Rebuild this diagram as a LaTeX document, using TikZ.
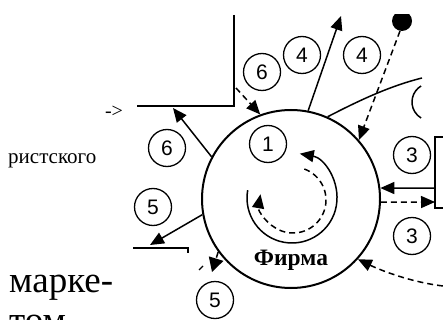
\documentclass[tikz,border=0pt]{standalone}
\usepackage{fontspec}
\setmainfont{Liberation Serif}
\newfontfamily\digitfont{Liberation Sans}
\usetikzlibrary{arrows.meta}
\begin{document}
\begin{tikzpicture}[x=1pt,y=-1pt,
  lbl/.style={circle,draw,line width=1.3pt,minimum size=37pt,inner sep=0pt,font=\digitfont\fontsize{21}{21}\selectfont},
  firmbox/.style={circle,draw,line width=2pt,minimum size=178pt,inner sep=0pt},
  conn/.style={line width=1.5pt},
  dsh/.style={line width=1.5pt,dash pattern=on 6pt off 4pt},
  tip/.style={-{Triangle[length=14pt,width=12pt]}},
]
\useasboundingbox (0,0) rectangle (443,320);
\begin{scope}
\clip (0,15) rectangle (443,320);
% texts
\node[font=\fontsize{20}{20}\selectfont,inner sep=0pt] (arr) at (114,112) {->};
\node[anchor=base west,font=\fontsize{21}{21}\selectfont,inner sep=0pt] (t1) at (8,164) {ристского};
\node[anchor=base west,font=\fontsize{37}{37}\selectfont,inner sep=0pt] (t2) at (9,292) {марке-};
\node[anchor=base west,font=\fontsize{37}{37}\selectfont,inner sep=0pt] (t3) at (9,332) {том};
% firm
\node[firmbox] (firm) at (291,199) {};
\node[anchor=base,font=\bfseries\fontsize{23.5}{23.5}\selectfont,inner sep=0pt] (fname) at (291,265) {Фирма};
% labels
\node[lbl] (n1) at (268,144) {1};
\node[lbl] (n6a) at (167,148) {6};
\node[lbl] (n6b) at (262,72) {6};
\node[lbl] (n4a) at (302,55) {4};
\node[lbl] (n4b) at (362,55) {4};
\node[lbl] (n3a) at (412,155) {3};
\node[lbl] (n3b) at (412,236) {3};
\node[lbl] (n5a) at (153,207) {5};
\node[lbl] (n5b) at (215,300) {5};
% coordinates
\coordinate (Ltop) at (234,15);
\coordinate (Lcorner) at (234,106);
\coordinate (Lend) at (137,106);
\coordinate (p6) at (173,108);
\coordinate (d6) at (236,88);
\coordinate (p4) at (341,16);
\coordinate (blob) at (402,21);
\coordinate (d4) at (400,31);
\coordinate (cEnd) at (422,78);
\coordinate (b3top) at (443,137);
\coordinate (b3tl) at (435,137);
\coordinate (b3bl) at (435,208);
\coordinate (b3bot) at (443,208);
\coordinate (s3) at (435,188);
\coordinate (e3) at (435,202);
\coordinate (p5) at (150,245);
\coordinate (l5a) at (133,248);
\coordinate (l5b) at (188,248);
\coordinate (l5c) at (188,253);
\coordinate (d5) at (212,272);
\coordinate (br) at (443,286);
% outline shapes
\draw[line width=1.8pt] (Ltop) -- (Lcorner) -- (Lend);
\draw[line width=1.6pt] (b3top) -- (b3tl) -- (b3bl) -- (b3bot);
\draw[line width=1.6pt] (l5a) -- (l5b) -- (l5c);
\fill (blob) circle[radius=10];
\draw[conn] (firm.66) .. controls (360,100) and (390,86) .. (cEnd);
\draw[conn] ([shift={(239:18.7)}]430.7,102) arc[start angle=239,end angle=121,radius=18.7];
% connectors
\draw[conn,tip] (firm.152) -- (p6);
\draw[dsh,tip] (d6) -- (firm.110);
\draw[conn,tip] (firm.79) -- (p4);
\draw[dsh,tip] (d4) -- (firm.41);
\draw[conn,tip] (s3) -- (firm.7);
\draw[dsh,tip] (firm.358) -- (e3);
\draw[conn,tip] (firm.190) -- (p5);
\draw[dsh,-{Triangle[length=14pt,width=15pt]}] (firm.216) -- (d5);
\draw[line width=1.3pt] (199,270) -- (203,266);
\draw[dsh,tip] (br) .. controls (410,282) and (380,270) .. (firm.318);
% inner loops
\draw[conn,tip] ([shift={(190:45)}]292,198) arc[start angle=190,end angle=-80,radius=45];
\draw[dsh,tip] ([shift={(-70:33)}]293,200) arc[start angle=-70,end angle=190,radius=33];
\end{scope}
\end{tikzpicture}
\end{document}
